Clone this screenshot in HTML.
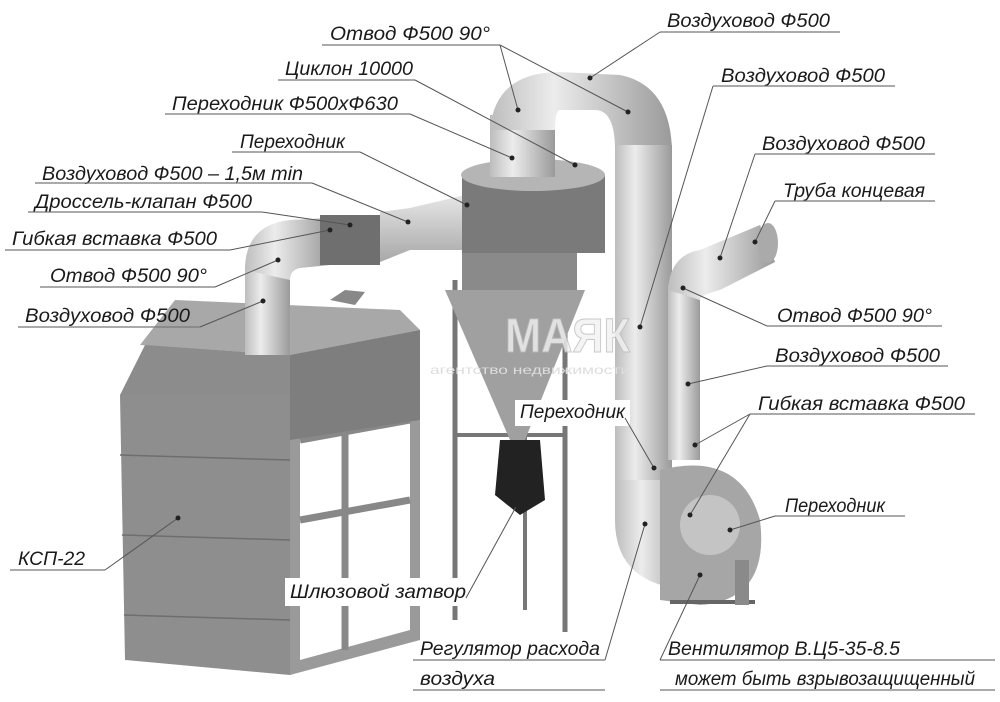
<!DOCTYPE html>
<html><head><meta charset="utf-8"><style>
html,body{margin:0;padding:0;background:#fff;}
svg{display:block}
text{font-family:"Liberation Sans","DejaVu Sans",sans-serif;font-style:italic;font-size:19px;fill:#1a1a1a}
.u{stroke:#777;stroke-width:1.3;fill:none}
.l{stroke:#555;stroke-width:1;fill:none}
.d{fill:#222}
</style></head><body>
<svg width="1000" height="702" viewBox="0 0 1000 702" xmlns="http://www.w3.org/2000/svg">
<defs>
<linearGradient id="pv" x1="0" x2="1" y1="0" y2="0"><stop offset="0" stop-color="#bdbdbd"/><stop offset=".35" stop-color="#ececec"/><stop offset="1" stop-color="#9a9a9a"/></linearGradient>
<linearGradient id="ph" x1="0" x2="0" y1="0" y2="1"><stop offset="0" stop-color="#e6e6e6"/><stop offset="1" stop-color="#a8a8a8"/></linearGradient>
</defs>
<g stroke="#777" stroke-width="5">
<line x1="455" y1="280" x2="455" y2="620"/><line x1="565" y1="290" x2="565" y2="632"/>
<line x1="525" y1="300" x2="525" y2="610" stroke-width="4"/>
<line x1="455" y1="435" x2="565" y2="435" stroke-width="4"/>
</g>
<polygon points="290,355 420,330 420,640 290,675" fill="#9a9a9a"/>
<polygon points="300,370 410,350 410,630 300,660" fill="#fff"/>
<g stroke="#888" stroke-width="7"><line x1="300" y1="440" x2="410" y2="420"/><line x1="300" y1="520" x2="410" y2="500"/><line x1="300" y1="600" x2="410" y2="585"/><line x1="345" y1="360" x2="345" y2="650"/></g>
<polygon points="140,345 175,300 400,310 420,330 290,355" fill="#a8a8a8"/>
<polygon points="145,345 290,355 290,395 120,395" fill="#8c8c8c"/>
<polygon points="120,395 290,395 290,675 125,660" fill="#8e8e8e"/>
<polygon points="290,355 420,330 420,420 290,440" fill="#7e7e7e"/>
<g stroke="#6e6e6e" stroke-width="1.5"><line x1="120" y1="455" x2="290" y2="460"/><line x1="122" y1="535" x2="290" y2="540"/><line x1="124" y1="615" x2="290" y2="620"/></g>
<polygon points="330,300 345,290 365,292 355,305" fill="#888"/>
<rect x="245" y="265" width="45" height="90" fill="url(#pv)"/>
<path d="M245 270 Q245 225 290 220 L330 218 L330 265 L300 268 Q290 270 290 280 Z" fill="url(#pv)"/>
<rect x="320" y="215" width="60" height="50" fill="#6f6f6f"/>
<path d="M380 212 L410 208 L465 195 L465 250 L410 250 L380 262 Z" fill="url(#ph)"/>
<rect x="462" y="250" width="115" height="40" fill="#8a8a8a"/>
<polygon points="445,290 585,290 525,440 510,440" fill="#a0a0a0"/>
<polygon points="500,440 540,440 545,500 520,515 495,495" fill="#222"/>
<rect x="462" y="175" width="143" height="78" fill="#7a7a7a"/>
<ellipse cx="533" cy="175" rx="72" ry="16" fill="#b5b5b5"/>
<rect x="490" y="115" width="65" height="62" fill="url(#pv)"/>
<path d="M490 130 Q495 72 560 72 L620 75 Q670 85 672 150 L615 150 Q615 110 595 110 L560 110 Q555 110 555 130 Z" fill="url(#pv)"/>
<rect x="615" y="145" width="57" height="335" fill="url(#pv)"/>
<rect x="668" y="285" width="32" height="175" fill="url(#pv)"/>
<path d="M668 290 Q670 255 700 250 L760 225 L775 262 L720 290 Q700 295 700 300 Z" fill="url(#pv)"/>
<ellipse cx="768" cy="243" rx="10" ry="20" fill="#aaa"/>
<path d="M615 480 L672 480 L672 520 Q672 545 690 550 L690 590 Q615 585 615 520 Z" fill="url(#pv)"/>
<path d="M660 470 Q740 450 760 520 Q770 600 700 605 L660 600 Z" fill="#a6a6a6"/>
<circle cx="710" cy="525" r="30" fill="#c4c4c4"/>
<rect x="670" y="600" width="85" height="4" fill="#666"/>
<rect x="735" y="560" width="14" height="45" fill="#8a8a8a"/>
<text x="505" y="352" style="font-style:normal;font-size:48px;font-weight:bold;fill:#f2f2f2;stroke:#bbb;stroke-width:1;opacity:.8" textLength="125" lengthAdjust="spacingAndGlyphs">МАЯК</text>
<text x="430" y="374" style="font-style:normal;font-size:12px;fill:#ddd" textLength="200" lengthAdjust="spacingAndGlyphs">агентство недвижимости</text>
<rect x="515" y="400" width="115" height="26" fill="#fff"/>
<rect x="285" y="578" width="185" height="28" fill="#fff"/>
<g>
<text x="330" y="40" textLength="160" lengthAdjust="spacingAndGlyphs">Отвод Ф500 90°</text><line class="u" x1="322" y1="45" x2="500" y2="45"/>
<text x="667" y="27" textLength="163" lengthAdjust="spacingAndGlyphs">Воздуховод Ф500</text><line class="u" x1="660" y1="32" x2="840" y2="32"/>
<text x="285" y="75" textLength="128" lengthAdjust="spacingAndGlyphs">Циклон 10000</text><line class="u" x1="278" y1="80" x2="415" y2="80"/>
<text x="172" y="110" textLength="226" lengthAdjust="spacingAndGlyphs">Переходник Ф500хФ630</text><line class="u" x1="165" y1="114" x2="410" y2="114"/>
<text x="721" y="82" textLength="164" lengthAdjust="spacingAndGlyphs">Воздуховод Ф500</text><line class="u" x1="713" y1="86" x2="895" y2="86"/>
<text x="240" y="148" textLength="105" lengthAdjust="spacingAndGlyphs">Переходник</text><line class="u" x1="232" y1="152" x2="360" y2="152"/>
<text x="42" y="180" textLength="261" lengthAdjust="spacingAndGlyphs">Воздуховод Ф500 – 1,5м min</text><line class="u" x1="35" y1="183" x2="312" y2="183"/>
<text x="762" y="150" textLength="163" lengthAdjust="spacingAndGlyphs">Воздуховод Ф500</text><line class="u" x1="755" y1="154" x2="935" y2="154"/>
<text x="35" y="208" textLength="217" lengthAdjust="spacingAndGlyphs">Дроссель-клапан Ф500</text><line class="u" x1="28" y1="212" x2="262" y2="212"/>
<text x="783" y="197" textLength="142" lengthAdjust="spacingAndGlyphs">Труба концевая</text><line class="u" x1="775" y1="201" x2="935" y2="201"/>
<text x="12" y="245" textLength="205" lengthAdjust="spacingAndGlyphs">Гибкая вставка Ф500</text><line class="u" x1="5" y1="250" x2="230" y2="250"/>
<text x="50" y="282" textLength="157" lengthAdjust="spacingAndGlyphs">Отвод Ф500 90°</text><line class="u" x1="40" y1="287" x2="215" y2="287"/>
<text x="777" y="322" textLength="155" lengthAdjust="spacingAndGlyphs">Отвод Ф500 90°</text><line class="u" x1="767" y1="326" x2="942" y2="326"/>
<text x="25" y="322" textLength="165" lengthAdjust="spacingAndGlyphs">Воздуховод Ф500</text><line class="u" x1="18" y1="327" x2="200" y2="327"/>
<text x="775" y="362" textLength="165" lengthAdjust="spacingAndGlyphs">Воздуховод Ф500</text><line class="u" x1="767" y1="366" x2="948" y2="366"/>
<text x="758" y="410" textLength="207" lengthAdjust="spacingAndGlyphs">Гибкая вставка Ф500</text><line class="u" x1="750" y1="414" x2="975" y2="414"/>
<text x="520" y="418" textLength="105" lengthAdjust="spacingAndGlyphs">Переходник</text>
<text x="785" y="512" textLength="100" lengthAdjust="spacingAndGlyphs">Переходник</text><line class="u" x1="775" y1="516" x2="905" y2="516"/>
<text x="18" y="565" textLength="67" lengthAdjust="spacingAndGlyphs">КСП-22</text><line class="u" x1="10" y1="570" x2="105" y2="570"/>
<text x="290" y="598" textLength="176" lengthAdjust="spacingAndGlyphs">Шлюзовой затвор</text>
<text x="420" y="655" textLength="180" lengthAdjust="spacingAndGlyphs">Регулятор расхода</text><line class="u" x1="413" y1="660" x2="605" y2="660"/>
<text x="420" y="685" textLength="75" lengthAdjust="spacingAndGlyphs">воздуха</text><line class="u" x1="413" y1="690" x2="605" y2="690"/>
<text x="668" y="655" textLength="232" lengthAdjust="spacingAndGlyphs">Вентилятор В.Ц5-35-8.5</text><line class="u" x1="660" y1="660" x2="995" y2="660"/>
<text x="675" y="685" textLength="300" lengthAdjust="spacingAndGlyphs">может быть взрывозащищенный</text><line class="u" x1="660" y1="690" x2="995" y2="690"/>
</g>
<g class="l">
<path d="M500 45 L518 110"/><path d="M500 45 L628 112"/>
<path d="M660 32 L590 78"/>
<path d="M415 80 L575 165"/><path d="M410 114 L512 158"/>
<path d="M360 152 L467 205"/><path d="M312 183 L408 222"/>
<path d="M262 212 L350 225"/><path d="M230 250 L330 230"/>
<path d="M215 287 L278 260"/><path d="M200 327 L263 301"/>
<path d="M713 86 L640 327"/><path d="M755 154 L720 258"/><path d="M775 201 L755 242"/>
<path d="M767 326 L683 288"/><path d="M767 366 L688 384"/>
<path d="M750 414 L695 445"/><path d="M750 414 L690 515"/>
<path d="M625 418 L654 468"/><path d="M775 516 L730 530"/>
<path d="M105 570 L178 518"/><path d="M466 598 L517 505"/>
<path d="M605 660 L645 524"/><path d="M660 660 L700 575"/>
</g>
<g class="d">
<circle cx="518" cy="110" r="2.5"/><circle cx="628" cy="112" r="2.5"/><circle cx="590" cy="78" r="2.5"/>
<circle cx="575" cy="165" r="2.5"/><circle cx="512" cy="158" r="2.5"/><circle cx="467" cy="205" r="2.5"/>
<circle cx="408" cy="222" r="2.5"/><circle cx="350" cy="225" r="2.5"/><circle cx="330" cy="230" r="2.5"/>
<circle cx="278" cy="260" r="2.5"/><circle cx="263" cy="301" r="2.5"/><circle cx="640" cy="327" r="2.5"/>
<circle cx="720" cy="258" r="2.5"/><circle cx="755" cy="242" r="2.5"/><circle cx="683" cy="288" r="2.5"/>
<circle cx="688" cy="384" r="2.5"/><circle cx="695" cy="445" r="2.5"/><circle cx="690" cy="515" r="2.5"/>
<circle cx="654" cy="468" r="2.5"/><circle cx="730" cy="530" r="2.5"/><circle cx="178" cy="518" r="2.5"/>
<circle cx="517" cy="505" r="2.5"/><circle cx="645" cy="524" r="2.5"/><circle cx="700" cy="575" r="2.5"/>
</g>
</svg>
</body></html>
